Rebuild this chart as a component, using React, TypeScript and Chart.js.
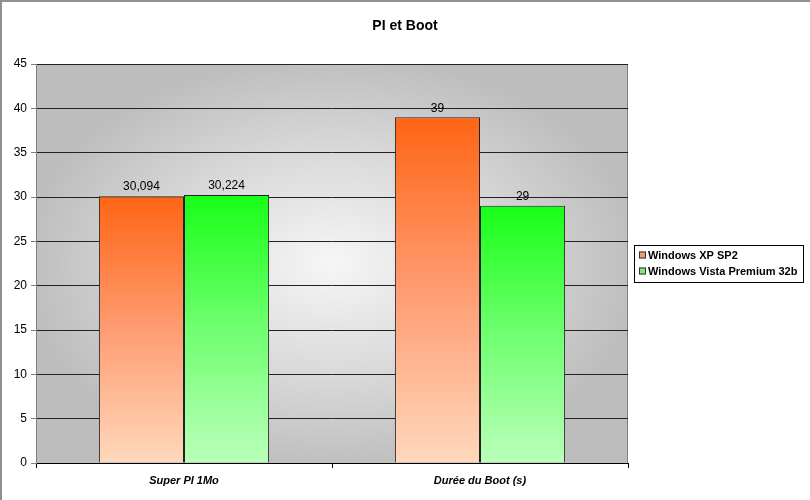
import React, { useEffect, useRef } from "react";
import { Chart, registerables } from "chart.js";

Chart.register(...registerables);

const chartTitle = "PI et Boot";
const categories = ["Super PI 1Mo", "Durée du Boot (s)"];
const seriesNames = ["Windows XP SP2", "Windows Vista Premium 32b"];
const xpValues = [30.094, 39];
const vistaValues = [30.224, 29];
const yMin = 0;
const yMax = 45;
const yStep = 5;

const FONT = "'Liberation Sans', Arial, sans-serif";

const palettes = [
  { top: "#FF6414", mid: "#FF9C72", bottom: "#FFD8BC", swatch: "#F49A78" },
  { top: "#18FF18", mid: "#70FF70", bottom: "#BAFFBA", swatch: "#7EEA7E" },
];

function barGradient(pi: number) {
  return (ctx: any) => {
    const p = palettes[pi];
    const chart = ctx.chart;
    const ys = chart.scales && chart.scales.y;
    if (!chart.chartArea || !ys || ctx.type !== "data") return p.mid;
    const yt = ys.getPixelForValue(ctx.raw);
    const yb = ys.getPixelForValue(0);
    if (!isFinite(yt) || !isFinite(yb) || yt === yb) return p.mid;
    const g = chart.ctx.createLinearGradient(0, yt, 0, yb);
    g.addColorStop(0, p.top);
    g.addColorStop(0.5, p.mid);
    g.addColorStop(1, p.bottom);
    return g;
  };
}

const decorPlugin = {
  id: "decor",
  beforeDraw(chart: any) {
    const { ctx, chartArea: a, width, height } = chart;
    ctx.save();
    ctx.fillStyle = "#FFFFFF";
    ctx.fillRect(0, 0, width, height);
    const cx = (a.left + a.right) / 2;
    const cy = (a.top + a.bottom) / 2;
    const w = a.right - a.left;
    const h = a.bottom - a.top;
    ctx.save();
    ctx.beginPath();
    ctx.rect(a.left, a.top, w, h);
    ctx.clip();
    ctx.translate(cx, cy);
    ctx.scale(1, h / w);
    const r = (w / 2) * 1.05;
    const g = ctx.createRadialGradient(0, 0, 0, 0, 0, r);
    g.addColorStop(0, "#F6F6F6");
    g.addColorStop(0.55, "#D8D8D8");
    g.addColorStop(1, "#BDBDBD");
    ctx.fillStyle = g;
    ctx.fillRect(-w, -w, 2 * w, 2 * w);
    ctx.restore();
    ctx.strokeStyle = "#808080";
    ctx.lineWidth = 1;
    ctx.strokeRect(a.left + 0.5, a.top + 0.5, w - 1, h);
    ctx.strokeStyle = "#909090";
    ctx.lineWidth = 2;
    ctx.beginPath();
    ctx.moveTo(1, height);
    ctx.lineTo(1, 1);
    ctx.lineTo(width, 1);
    ctx.stroke();
    ctx.fillStyle = "#000";
    ctx.font = `bold 14px ${FONT}`;
    ctx.textAlign = "center";
    ctx.textBaseline = "middle";
    ctx.fillText(chartTitle, 405, 26);
    ctx.restore();
  },
  afterDatasetsDraw(chart: any) {
    const { ctx } = chart;
    ctx.save();
    ctx.fillStyle = "#000";
    ctx.font = `12px ${FONT}`;
    ctx.textAlign = "center";
    ctx.textBaseline = "bottom";
    chart.data.datasets.forEach((ds: any, di: number) => {
      const meta = chart.getDatasetMeta(di);
      meta.data.forEach((bar: any, i: number) => {
        const v = ds.data[i];
        const label = String(v).replace(".", ",");
        ctx.fillText(label, bar.x, bar.y - 3);
      });
    });
    const lx = 634, ly = 245, lw = 169, lh = 37;
    ctx.fillStyle = "#FFFFFF";
    ctx.fillRect(lx, ly, lw, lh);
    ctx.strokeStyle = "#000";
    ctx.lineWidth = 1;
    ctx.strokeRect(lx + 0.5, ly + 0.5, lw, lh);
    ctx.font = `bold 11px ${FONT}`;
    ctx.textAlign = "left";
    ctx.textBaseline = "middle";
    seriesNames.forEach((name, i) => {
      const yy = ly + 10 + i * 16;
      ctx.fillStyle = palettes[i].swatch;
      ctx.fillRect(lx + 5, yy - 3.5, 7, 7);
      ctx.strokeStyle = "#333";
      ctx.strokeRect(lx + 5.5, yy - 3, 6, 6);
      ctx.fillStyle = "#000";
      ctx.fillText(name, lx + 14, yy + 0.5);
    });
    ctx.restore();
  },
};

export default function App() {
  const ref = useRef<HTMLCanvasElement>(null);
  useEffect(() => {
    if (!ref.current) return;
    const chart = new Chart(ref.current, {
      type: "bar",
      data: {
        labels: categories,
        datasets: [
          {
            label: seriesNames[0],
            data: xpValues,
            backgroundColor: barGradient(0),
            borderColor: "#222",
            borderWidth: 1,
            categoryPercentage: 0.575,
            barPercentage: 1,
          },
          {
            label: seriesNames[1],
            data: vistaValues,
            backgroundColor: barGradient(1),
            borderColor: "#222",
            borderWidth: 1,
            categoryPercentage: 0.575,
            barPercentage: 1,
          },
        ],
      },
      options: {
        responsive: false,
        animation: false,
        devicePixelRatio: 1,
        layout: { padding: { left: 0, top: 64, right: 182, bottom: 0 } },
        plugins: {
          legend: { display: false },
          title: { display: false },
          tooltip: { enabled: false },
        },
        scales: {
          x: {
            offset: true,
            afterFit: (s: any) => {
              s.height = 37;
            },
            grid: {
              offset: true,
              drawOnChartArea: false,
              drawTicks: true,
              tickLength: 5,
              color: "#000",
            },
            border: { color: "#000", width: 1 },
            ticks: {
              color: "#000",
              padding: 6,
              font: { family: FONT, size: 11, weight: "bold", style: "italic" },
            },
          },
          y: {
            min: yMin,
            max: yMax,
            afterFit: (s: any) => {
              s.width = 36;
            },
            ticks: {
              stepSize: yStep,
              color: "#000",
              padding: 4,
              font: { family: FONT, size: 12 },
            },
            grid: {
              color: (c: any) => (c.tick && c.tick.value === 0 ? "#000" : "#222"),
              tickColor: "#808080",
              tickLength: 5,
              lineWidth: 1,
            },
            border: { color: "#808080", width: 1 },
          },
        },
      },
      plugins: [decorPlugin],
    });
    return () => chart.destroy();
  }, []);
  return (
    <div style={{ position: "absolute", left: 0, top: 0, width: 810, height: 500 }}>
      <canvas ref={ref} width={810} height={500} style={{ width: 810, height: 500 }} />
    </div>
  );
}
